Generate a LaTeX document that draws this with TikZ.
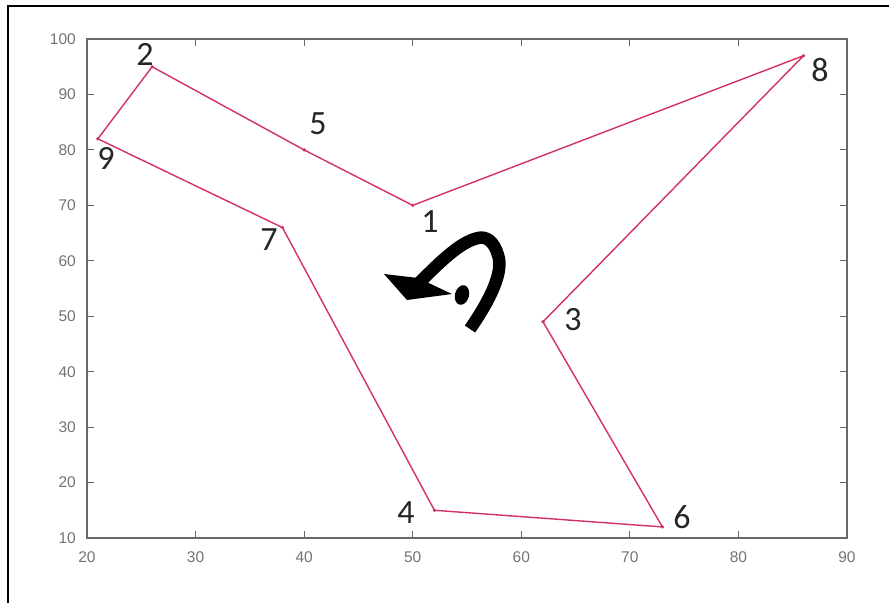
\documentclass[tikz,border=0pt]{standalone}
\usepackage{fontspec}
\setmainfont{Carlito}
\newfontfamily\tickfont{Liberation Sans}
\definecolor{polyred}{RGB}{210,50,95}
\definecolor{axisgray}{RGB}{105,105,105}
\definecolor{tickgray}{RGB}{115,115,115}
\begin{document}
\begin{tikzpicture}[x=1pt,y=-1pt,
  poly/.style={draw=polyred, line width=1.4pt, line join=round},
  vmark/.style={fill=polyred},
  vlabel/.style={font=\fontsize{34}{34}\selectfont, text=black!85, inner sep=0pt},
  ticklab/.style={font=\tickfont\fontsize{15.5}{15.5}\selectfont, text=tickgray, inner sep=0pt},
  axisline/.style={draw=axisgray, line width=1.3pt},
  tickline/.style={draw=axisgray, line width=1.1pt}]
\useasboundingbox (0,0) rectangle (889,603);
\fill[white] (0,0) rectangle (889,603);
\draw[line width=2.5pt] (8,603) -- (8,6) -- (889,6);
\begin{scope}[shift={(-130.14pt,-593.44pt)}, x=10.857pt, y=5.544pt]
  \coordinate (ll) at (20,10);
  \coordinate (ur) at (90,100);
  \draw[axisline] (ll) rectangle (ur);
  \foreach \u in {30,40,...,80} {
    \draw[tickline] (\u,10) -- ++(0,7pt);
    \draw[tickline] (\u,100) -- ++(0,-7pt);
  }
  \foreach \v in {20,30,...,90} {
    \draw[tickline] (20,\v) -- ++(7pt,0);
    \draw[tickline] (90,\v) -- ++(-7pt,0);
  }
  \foreach \u in {20,30,...,90} {
    \node[ticklab, anchor=north] (xl\u) at ([yshift=-13pt]\u,10) {\u};
  }
  \foreach \v in {10,20,...,100} {
    \node[ticklab, anchor=east] (yl\v) at ([xshift=-11pt]20,\v) {\v};
  }
  \coordinate (p1) at (50,70);
  \coordinate (p2) at (26,95);
  \coordinate (p3) at (62,49);
  \coordinate (p4) at (52,15);
  \coordinate (p5) at (40,80);
  \coordinate (p6) at (73,12);
  \coordinate (p7) at (38,66);
  \coordinate (p8) at (86,97);
  \coordinate (p9) at (21,82);
  \draw[poly] (p2) -- (p5) -- (p1) -- (p8) -- (p3) -- (p6) -- (p4) -- (p7) -- (p9) -- cycle;
  \foreach \p in {p1,p2,p3,p4,p5,p6,p7,p8,p9} {
    \fill[vmark] (\p) circle (1.8pt);
  }
\end{scope}
\node[vlabel] (l1) at (430,222) {1};
\node[vlabel] (l2) at (145,54) {2};
\node[vlabel] (l3) at (573,320) {3};
\node[vlabel] (l4) at (406,513) {4};
\node[vlabel] (l5) at (318,124) {5};
\node[vlabel] (l6) at (682,517) {6};
\node[vlabel] (l7) at (269,240) {7};
\node[vlabel] (l8) at (820,70) {8};
\node[vlabel] (l9) at (106,158) {9};
% rotation symbol
\draw[line width=12.5pt] (470,329) .. controls (490,300) and (504,272) .. (498,255)
  .. controls (494,241) and (486,236) .. (478,238)
  .. controls (460,242) and (440,262) .. (418,284);
\fill (384,274) -- (418,278) -- (452,294) -- (407,300) -- cycle;
\fill[rotate around={-15:(462,295)}] (462,295) ellipse (7 and 10);
\end{tikzpicture}
\end{document}
